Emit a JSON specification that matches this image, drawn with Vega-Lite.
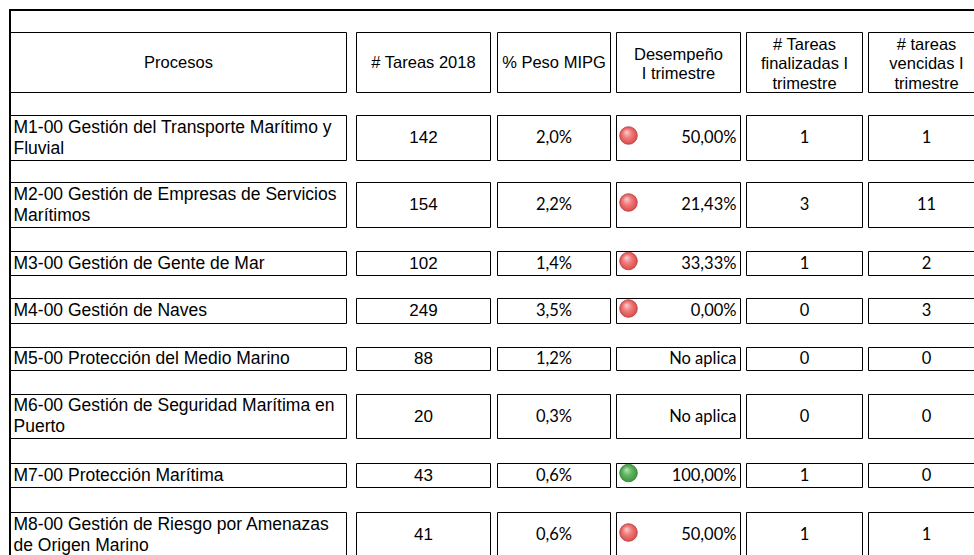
{
  "$schema": "https://vega.github.io/schema/vega-lite/v6.json",
  "width": 974,
  "height": 555,
  "autosize": {"type": "fit", "contains": "padding"},
  "padding": {"left": 10, "top": 10, "right": -2, "bottom": -2},
  "background": "white",
  "config": {
    "view": {"stroke": "black", "strokeWidth": 2},
    "axis": {"disable": true},
    "locale": {"number": {"decimal": ",", "thousands": ".", "grouping": [3], "currency": ["", " €"]}}
  },
  "datasets": {
    "encabezados": [
      {"titulo": "Procesos"},
      {"titulo": "# Tareas 2018"},
      {"titulo": "% Peso MIPG"},
      {"titulo": "Desempeño\nI trimestre"},
      {"titulo": "# Tareas\nfinalizadas I\ntrimestre"},
      {"titulo": "# tareas\nvencidas I\ntrimestre"}
    ],
    "procesos": [
      {"proceso": "M1-00 Gestión del Transporte Marítimo y\nFluvial", "tareas": 142, "peso": 0.020, "desempeno": 0.5, "finalizadas": 1, "vencidas": 1},
      {"proceso": "M2-00 Gestión de Empresas de Servicios\nMarítimos", "tareas": 154, "peso": 0.022, "desempeno": 0.2143, "finalizadas": 3, "vencidas": 11},
      {"proceso": "M3-00 Gestión de Gente de Mar", "tareas": 102, "peso": 0.014, "desempeno": 0.3333, "finalizadas": 1, "vencidas": 2},
      {"proceso": "M4-00 Gestión de Naves", "tareas": 249, "peso": 0.035, "desempeno": 0, "finalizadas": 0, "vencidas": 3},
      {"proceso": "M5-00 Protección del Medio Marino", "tareas": 88, "peso": 0.012, "desempeno": null, "finalizadas": 0, "vencidas": 0},
      {"proceso": "M6-00 Gestión de Seguridad Marítima en\nPuerto", "tareas": 20, "peso": 0.003, "desempeno": null, "finalizadas": 0, "vencidas": 0},
      {"proceso": "M7-00 Protección Marítima", "tareas": 43, "peso": 0.006, "desempeno": 1, "finalizadas": 1, "vencidas": 0},
      {"proceso": "M8-00 Gestión de Riesgo por Amenazas\nde Origen Marino", "tareas": 41, "peso": 0.006, "desempeno": 0.5, "finalizadas": 1, "vencidas": 1}
    ]
  },
  "layer": [
    {
      "data": {"name": "encabezados"},
      "transform": [
        {"window": [{"op": "row_number", "as": "n"}]},
        {"calculate": "2*datum.n-2", "as": "c0"},
        {"calculate": "2*datum.n-1", "as": "c1"},
        {"calculate": "2*datum.n-1.5", "as": "cc"},
        {"calculate": "length(split(datum.titulo, '\\n'))", "as": "lineas"}
      ],
      "layer": [
        {
          "mark": {"type": "rect", "fill": "white", "stroke": "black", "strokeWidth": 1},
          "encoding": {
            "x": {"field": "c0", "type": "quantitative", "axis": null, "scale": {"type": "linear", "nice": false, "zero": false, "domain": [0,1,2,3,4,5,6,7,8,9,10,11], "range": [0.5,336.5,346.5,480.5,487.5,600.5,606.5,730.5,736.5,852.5,858.5,974.5]}},
            "x2": {"field": "c1"},
            "y": {"datum": 0, "type": "quantitative", "axis": null, "scale": {"type": "linear", "nice": false, "zero": false, "domain": [0,1,2,3,4,5,6,7,8,9,10,11,12,13,14,15,16,17], "range": [22.5,82.5,105.5,150.5,172.5,217.5,241.5,265.5,288.5,313.5,337.5,360.5,384.5,428.5,453.5,477.5,502.5,547.5]}},
            "y2": {"datum": 1}
          }
        },
        {
          "transform": [{"filter": "datum.lineas == 1"}],
          "mark": {"type": "text", "align": "center", "baseline": "middle", "dy": 0, "font": "Liberation Sans", "fontSize": 16.5, "lineHeight": 19.5, "lineBreak": "\n", "color": "black"},
          "encoding": {
            "x": {"field": "cc", "type": "quantitative", "axis": null, "scale": {"type": "linear", "nice": false, "zero": false, "domain": [0,1,2,3,4,5,6,7,8,9,10,11], "range": [0.5,336.5,346.5,480.5,487.5,600.5,606.5,730.5,736.5,852.5,858.5,974.5]}},
            "y": {"datum": 0.5, "type": "quantitative", "axis": null, "scale": {"type": "linear", "nice": false, "zero": false, "domain": [0,1,2,3,4,5,6,7,8,9,10,11,12,13,14,15,16,17], "range": [22.5,82.5,105.5,150.5,172.5,217.5,241.5,265.5,288.5,313.5,337.5,360.5,384.5,428.5,453.5,477.5,502.5,547.5]}},
            "text": {"field": "titulo"}
          }
        },
        {
          "transform": [{"filter": "datum.lineas == 2"}],
          "mark": {"type": "text", "align": "center", "baseline": "middle", "dy": -7.5, "font": "Liberation Sans", "fontSize": 16.5, "lineHeight": 19, "lineBreak": "\n", "color": "black"},
          "encoding": {
            "x": {"field": "cc", "type": "quantitative", "axis": null, "scale": {"type": "linear", "nice": false, "zero": false, "domain": [0,1,2,3,4,5,6,7,8,9,10,11], "range": [0.5,336.5,346.5,480.5,487.5,600.5,606.5,730.5,736.5,852.5,858.5,974.5]}},
            "y": {"datum": 0.5, "type": "quantitative", "axis": null, "scale": {"type": "linear", "nice": false, "zero": false, "domain": [0,1,2,3,4,5,6,7,8,9,10,11,12,13,14,15,16,17], "range": [22.5,82.5,105.5,150.5,172.5,217.5,241.5,265.5,288.5,313.5,337.5,360.5,384.5,428.5,453.5,477.5,502.5,547.5]}},
            "text": {"field": "titulo"}
          }
        },
        {
          "transform": [{"filter": "datum.lineas == 3"}],
          "mark": {"type": "text", "align": "center", "baseline": "middle", "dy": -18, "font": "Liberation Sans", "fontSize": 16.5, "lineHeight": 19.5, "lineBreak": "\n", "color": "black"},
          "encoding": {
            "x": {"field": "cc", "type": "quantitative", "axis": null, "scale": {"type": "linear", "nice": false, "zero": false, "domain": [0,1,2,3,4,5,6,7,8,9,10,11], "range": [0.5,336.5,346.5,480.5,487.5,600.5,606.5,730.5,736.5,852.5,858.5,974.5]}},
            "y": {"datum": 0.5, "type": "quantitative", "axis": null, "scale": {"type": "linear", "nice": false, "zero": false, "domain": [0,1,2,3,4,5,6,7,8,9,10,11,12,13,14,15,16,17], "range": [22.5,82.5,105.5,150.5,172.5,217.5,241.5,265.5,288.5,313.5,337.5,360.5,384.5,428.5,453.5,477.5,502.5,547.5]}},
            "text": {"field": "titulo"}
          }
        }
      ]
    },
    {
      "data": {"name": "procesos"},
      "transform": [
        {"window": [{"op": "row_number", "as": "fila"}]},
        {"calculate": "2*datum.fila", "as": "r0"},
        {"calculate": "2*datum.fila+1", "as": "r1"},
        {"calculate": "2*datum.fila+0.5", "as": "rc"}
      ],
      "layer": [
        {
          "transform": [
            {"fold": ["proceso", "tareas", "peso", "desempeno", "finalizadas", "vencidas"], "as": ["columna", "valor"]},
            {"calculate": "indexof(['proceso','tareas','peso','desempeno','finalizadas','vencidas'], datum.columna)", "as": "col"},
            {"calculate": "2*datum.col", "as": "c0"},
            {"calculate": "2*datum.col+1", "as": "c1"}
          ],
          "mark": {"type": "rect", "fill": "white", "stroke": "black", "strokeWidth": 1},
          "encoding": {
            "x": {"field": "c0", "type": "quantitative", "axis": null, "scale": {"type": "linear", "nice": false, "zero": false, "domain": [0,1,2,3,4,5,6,7,8,9,10,11], "range": [0.5,336.5,346.5,480.5,487.5,600.5,606.5,730.5,736.5,852.5,858.5,974.5]}},
            "x2": {"field": "c1"},
            "y": {"field": "r0", "type": "quantitative", "axis": null, "scale": {"type": "linear", "nice": false, "zero": false, "domain": [0,1,2,3,4,5,6,7,8,9,10,11,12,13,14,15,16,17], "range": [22.5,82.5,105.5,150.5,172.5,217.5,241.5,265.5,288.5,313.5,337.5,360.5,384.5,428.5,453.5,477.5,502.5,547.5]}},
            "y2": {"field": "r1"}
          }
        },
        {
          "transform": [{"filter": "indexof(datum.proceso, '\\n') < 0"}],
          "mark": {"type": "text", "align": "left", "baseline": "middle", "dx": 3, "dy": 0, "font": "Liberation Sans", "fontSize": 17.5, "lineHeight": 21, "lineBreak": "\n", "color": "black"},
          "encoding": {
            "x": {"datum": 0, "type": "quantitative", "axis": null, "scale": {"type": "linear", "nice": false, "zero": false, "domain": [0,1,2,3,4,5,6,7,8,9,10,11], "range": [0.5,336.5,346.5,480.5,487.5,600.5,606.5,730.5,736.5,852.5,858.5,974.5]}},
            "y": {"field": "rc", "type": "quantitative", "axis": null, "scale": {"type": "linear", "nice": false, "zero": false, "domain": [0,1,2,3,4,5,6,7,8,9,10,11,12,13,14,15,16,17], "range": [22.5,82.5,105.5,150.5,172.5,217.5,241.5,265.5,288.5,313.5,337.5,360.5,384.5,428.5,453.5,477.5,502.5,547.5]}},
            "text": {"field": "proceso"}
          }
        },
        {
          "transform": [{"filter": "indexof(datum.proceso, '\\n') >= 0"}],
          "mark": {"type": "text", "align": "left", "baseline": "middle", "dx": 3, "dy": -10.5, "font": "Liberation Sans", "fontSize": 17.5, "lineHeight": 21, "lineBreak": "\n", "color": "black"},
          "encoding": {
            "x": {"datum": 0, "type": "quantitative", "axis": null, "scale": {"type": "linear", "nice": false, "zero": false, "domain": [0,1,2,3,4,5,6,7,8,9,10,11], "range": [0.5,336.5,346.5,480.5,487.5,600.5,606.5,730.5,736.5,852.5,858.5,974.5]}},
            "y": {"field": "rc", "type": "quantitative", "axis": null, "scale": {"type": "linear", "nice": false, "zero": false, "domain": [0,1,2,3,4,5,6,7,8,9,10,11,12,13,14,15,16,17], "range": [22.5,82.5,105.5,150.5,172.5,217.5,241.5,265.5,288.5,313.5,337.5,360.5,384.5,428.5,453.5,477.5,502.5,547.5]}},
            "text": {"field": "proceso"}
          }
        },
        {
          "mark": {"type": "text", "align": "center", "baseline": "middle", "font": "Liberation Sans", "fontSize": 17, "color": "black"},
          "encoding": {
            "x": {"datum": 2.5, "type": "quantitative", "axis": null, "scale": {"type": "linear", "nice": false, "zero": false, "domain": [0,1,2,3,4,5,6,7,8,9,10,11], "range": [0.5,336.5,346.5,480.5,487.5,600.5,606.5,730.5,736.5,852.5,858.5,974.5]}},
            "y": {"field": "rc", "type": "quantitative", "axis": null, "scale": {"type": "linear", "nice": false, "zero": false, "domain": [0,1,2,3,4,5,6,7,8,9,10,11,12,13,14,15,16,17], "range": [22.5,82.5,105.5,150.5,172.5,217.5,241.5,265.5,288.5,313.5,337.5,360.5,384.5,428.5,453.5,477.5,502.5,547.5]}},
            "text": {"field": "tareas", "type": "quantitative", "format": "d"}
          }
        },
        {
          "mark": {"type": "text", "align": "center", "baseline": "middle", "font": "Lato", "fontSize": 16.5, "color": "black"},
          "encoding": {
            "x": {"datum": 4.5, "type": "quantitative", "axis": null, "scale": {"type": "linear", "nice": false, "zero": false, "domain": [0,1,2,3,4,5,6,7,8,9,10,11], "range": [0.5,336.5,346.5,480.5,487.5,600.5,606.5,730.5,736.5,852.5,858.5,974.5]}},
            "y": {"field": "rc", "type": "quantitative", "axis": null, "scale": {"type": "linear", "nice": false, "zero": false, "domain": [0,1,2,3,4,5,6,7,8,9,10,11,12,13,14,15,16,17], "range": [22.5,82.5,105.5,150.5,172.5,217.5,241.5,265.5,288.5,313.5,337.5,360.5,384.5,428.5,453.5,477.5,502.5,547.5]}},
            "text": {"field": "peso", "type": "quantitative", "format": ".1%"}
          }
        },
        {
          "mark": {"type": "text", "align": "right", "baseline": "middle", "dx": -4, "font": "Lato", "fontSize": 16.5, "color": "black"},
          "encoding": {
            "x": {"datum": 7, "type": "quantitative", "axis": null, "scale": {"type": "linear", "nice": false, "zero": false, "domain": [0,1,2,3,4,5,6,7,8,9,10,11], "range": [0.5,336.5,346.5,480.5,487.5,600.5,606.5,730.5,736.5,852.5,858.5,974.5]}},
            "y": {"field": "rc", "type": "quantitative", "axis": null, "scale": {"type": "linear", "nice": false, "zero": false, "domain": [0,1,2,3,4,5,6,7,8,9,10,11,12,13,14,15,16,17], "range": [22.5,82.5,105.5,150.5,172.5,217.5,241.5,265.5,288.5,313.5,337.5,360.5,384.5,428.5,453.5,477.5,502.5,547.5]}},
            "text": {"condition": {"test": "datum.desempeno == null", "value": "No aplica"}, "field": "desempeno", "type": "quantitative", "format": ".2%"}
          }
        },
        {
          "mark": {"type": "text", "align": "center", "baseline": "middle", "font": "Lato", "fontSize": 16.5, "color": "black"},
          "encoding": {
            "x": {"datum": 8.5, "type": "quantitative", "axis": null, "scale": {"type": "linear", "nice": false, "zero": false, "domain": [0,1,2,3,4,5,6,7,8,9,10,11], "range": [0.5,336.5,346.5,480.5,487.5,600.5,606.5,730.5,736.5,852.5,858.5,974.5]}},
            "y": {"field": "rc", "type": "quantitative", "axis": null, "scale": {"type": "linear", "nice": false, "zero": false, "domain": [0,1,2,3,4,5,6,7,8,9,10,11,12,13,14,15,16,17], "range": [22.5,82.5,105.5,150.5,172.5,217.5,241.5,265.5,288.5,313.5,337.5,360.5,384.5,428.5,453.5,477.5,502.5,547.5]}},
            "text": {"field": "finalizadas", "type": "quantitative", "format": "d"}
          }
        },
        {
          "mark": {"type": "text", "align": "center", "baseline": "middle", "font": "Lato", "fontSize": 16.5, "color": "black"},
          "encoding": {
            "x": {"datum": 10.5, "type": "quantitative", "axis": null, "scale": {"type": "linear", "nice": false, "zero": false, "domain": [0,1,2,3,4,5,6,7,8,9,10,11], "range": [0.5,336.5,346.5,480.5,487.5,600.5,606.5,730.5,736.5,852.5,858.5,974.5]}},
            "y": {"field": "rc", "type": "quantitative", "axis": null, "scale": {"type": "linear", "nice": false, "zero": false, "domain": [0,1,2,3,4,5,6,7,8,9,10,11,12,13,14,15,16,17], "range": [22.5,82.5,105.5,150.5,172.5,217.5,241.5,265.5,288.5,313.5,337.5,360.5,384.5,428.5,453.5,477.5,502.5,547.5]}},
            "text": {"field": "vencidas", "type": "quantitative", "format": "d"}
          }
        },
        {
          "transform": [{"filter": "datum.desempeno != null && datum.desempeno < 1"}],
          "mark": {"type": "circle", "size": 310, "opacity": 1, "xOffset": 12, "yOffset": -2.5, "stroke": "#b23b3b", "strokeWidth": 0.8,
            "fill": {"gradient": "radial", "x1": 0.38, "y1": 0.3, "r1": 0, "x2": 0.5, "y2": 0.5, "r2": 0.55, "stops": [{"offset": 0, "color": "#fcd2d2"}, {"offset": 0.45, "color": "#f07c7c"}, {"offset": 1, "color": "#d94444"}]}},
          "encoding": {
            "x": {"datum": 6, "type": "quantitative", "axis": null, "scale": {"type": "linear", "nice": false, "zero": false, "domain": [0,1,2,3,4,5,6,7,8,9,10,11], "range": [0.5,336.5,346.5,480.5,487.5,600.5,606.5,730.5,736.5,852.5,858.5,974.5]}},
            "y": {"field": "rc", "type": "quantitative", "axis": null, "scale": {"type": "linear", "nice": false, "zero": false, "domain": [0,1,2,3,4,5,6,7,8,9,10,11,12,13,14,15,16,17], "range": [22.5,82.5,105.5,150.5,172.5,217.5,241.5,265.5,288.5,313.5,337.5,360.5,384.5,428.5,453.5,477.5,502.5,547.5]}}
          }
        },
        {
          "transform": [{"filter": "datum.desempeno != null && datum.desempeno >= 1"}],
          "mark": {"type": "circle", "size": 310, "opacity": 1, "xOffset": 12, "yOffset": -2.5, "stroke": "#2f7d32", "strokeWidth": 0.8,
            "fill": {"gradient": "radial", "x1": 0.38, "y1": 0.3, "r1": 0, "x2": 0.5, "y2": 0.5, "r2": 0.55, "stops": [{"offset": 0, "color": "#bfe6bf"}, {"offset": 0.45, "color": "#62b862"}, {"offset": 1, "color": "#3a913a"}]}},
          "encoding": {
            "x": {"datum": 6, "type": "quantitative", "axis": null, "scale": {"type": "linear", "nice": false, "zero": false, "domain": [0,1,2,3,4,5,6,7,8,9,10,11], "range": [0.5,336.5,346.5,480.5,487.5,600.5,606.5,730.5,736.5,852.5,858.5,974.5]}},
            "y": {"field": "rc", "type": "quantitative", "axis": null, "scale": {"type": "linear", "nice": false, "zero": false, "domain": [0,1,2,3,4,5,6,7,8,9,10,11,12,13,14,15,16,17], "range": [22.5,82.5,105.5,150.5,172.5,217.5,241.5,265.5,288.5,313.5,337.5,360.5,384.5,428.5,453.5,477.5,502.5,547.5]}}
          }
        }
      ]
    }
  ]
}
